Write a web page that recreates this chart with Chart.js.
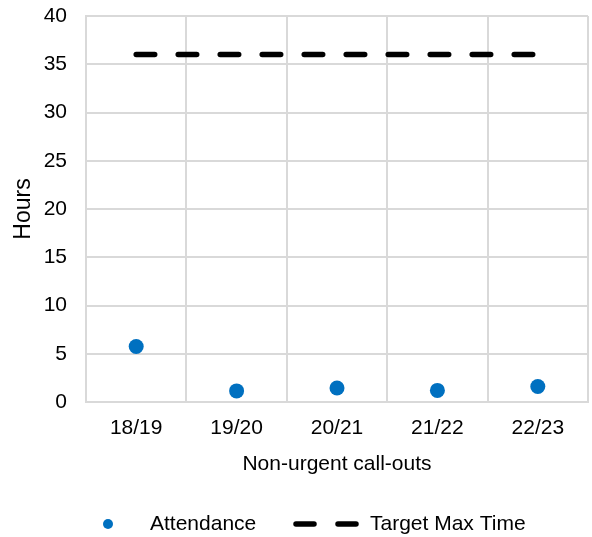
<!DOCTYPE html>
<html>
<head>
<meta charset="utf-8">
<script src="https://cdn.jsdelivr.net/npm/chart.js@4/dist/chart.umd.min.js"></script>
<style>
  html, body { margin: 0; padding: 0; background: #fff; }
  #wrap { width: 592px; height: 537px; position: relative; }
</style>
</head>
<body>
<div id="wrap"><canvas id="c" width="592" height="537"></canvas></div>
<script>
// Financial years on the category axis
const categories = ['18/19', '19/20', '20/21', '21/22', '22/23'];
// Average attendance time for non-urgent call-outs (hours)
const attendance = [5.75, 1.15, 1.45, 1.2, 1.6];
// Target maximum attendance time (hours)
const targetMax = [36, 36, 36, 36, 36];
// Value axis ticks
const yTicks = [0, 5, 10, 15, 20, 25, 30, 35, 40];

const FONT = "'Liberation Sans', Arial, Helvetica, sans-serif";
const GRID = '#d9d9d9';
const TEXT = '#000000';

// Legend drawn underneath the plot, one entry per dataset
const bottomLegend = {
  id: 'bottomLegend',
  afterDraw(chart) {
    const ctx = chart.ctx;
    const ds = chart.data.datasets;
    const y = 524;
    ctx.save();
    ctx.font = '21px ' + FONT;
    ctx.fillStyle = TEXT;
    ctx.textBaseline = 'middle';
    ctx.textAlign = 'left';

    // Attendance: marker + label
    ctx.beginPath();
    ctx.arc(108, y, 5, 0, Math.PI * 2);
    ctx.fillStyle = ds[0].backgroundColor;
    ctx.fill();
    ctx.fillStyle = TEXT;
    ctx.fillText(ds[0].label, 150, y);

    // Target: dashed sample + label
    ctx.strokeStyle = ds[1].borderColor;
    ctx.lineWidth = ds[1].borderWidth;
    ctx.lineCap = 'round';
    ctx.beginPath();
    ctx.moveTo(296, y); ctx.lineTo(314, y);
    ctx.moveTo(338, y); ctx.lineTo(356, y);
    ctx.stroke();
    ctx.fillText(ds[1].label, 370, y);
    ctx.restore();
  }
};

new Chart(document.getElementById('c'), {
  type: 'line',
  data: {
    labels: categories,
    datasets: [
      {
        label: 'Attendance',
        data: attendance,
        showLine: false,
        pointRadius: 7.5,
        pointHoverRadius: 7.5,
        pointBorderWidth: 0,
        backgroundColor: '#0070C0',
        borderColor: '#0070C0',
        order: 1
      },
      {
        label: 'Target Max Time',
        data: targetMax,
        borderColor: '#000000',
        backgroundColor: '#000000',
        borderWidth: 5.5,
        borderDash: [18.5, 23.5],
        borderCapStyle: 'round',
        pointRadius: 0,
        fill: false,
        order: 2
      }
    ]
  },
  options: {
    responsive: false,
    animation: false,
    layout: { autoPadding: false, padding: { top: 16, right: 4, bottom: 60, left: 0 } },
    plugins: {
      legend: { display: false },
      tooltip: { enabled: false }
    },
    scales: {
      x: {
        offset: true,
        grid: {
          color: GRID, lineWidth: 2, offset: true,
          drawTicks: true, tickLength: 14, tickColor: 'rgba(0,0,0,0)'
        },
        border: { color: GRID, width: 2 },
        ticks: { color: TEXT, font: { family: FONT, size: 21 }, padding: 0 },
        title: {
          display: true,
          text: 'Non-urgent call-outs',
          color: TEXT,
          font: { family: FONT, size: 21 },
          padding: { top: 3, bottom: 0 }
        },
        afterFit(scale) { scale.height = 75; }
      },
      y: {
        min: 0,
        max: 40,
        afterBuildTicks(scale) { scale.ticks = yTicks.map(v => ({ value: v })); },
        grid: {
          color: GRID, lineWidth: 2,
          drawTicks: true, tickLength: 19, tickColor: 'rgba(0,0,0,0)'
        },
        border: { color: GRID, width: 2 },
        ticks: { color: TEXT, font: { family: FONT, size: 21 }, padding: 0 },
        title: {
          display: true,
          text: 'Hours',
          color: TEXT,
          font: { family: FONT, size: 23 },
          padding: { top: 10, bottom: 0 }
        },
        afterFit(scale) { scale.width = 86; }
      }
    }
  },
  plugins: [bottomLegend]
});
</script>
</body>
</html>
